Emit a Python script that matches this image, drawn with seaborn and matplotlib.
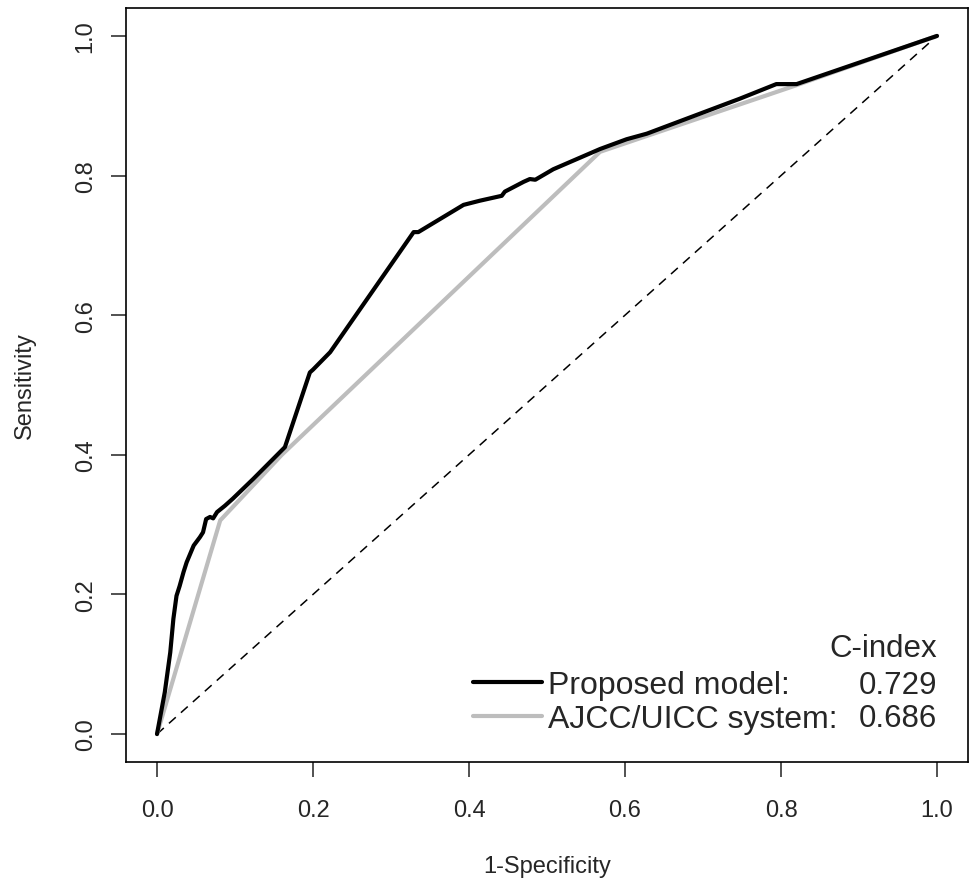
import matplotlib
matplotlib.use("Agg")
import matplotlib.pyplot as plt
import seaborn as sns
import pandas as pd
import numpy as np
from matplotlib.lines import Line2D

sns.set_style("white")
plt.rcParams['font.family'] = ['Liberation Sans', 'DejaVu Sans']

# Proposed model ROC curve (1-Specificity, Sensitivity)
proposed_fpr = [0.0, 0.006, 0.010, 0.017, 0.021, 0.025, 0.029, 0.034, 0.038, 0.047,
                0.055, 0.059, 0.063, 0.068, 0.072, 0.077, 0.087, 0.097, 0.123, 0.164,
                0.196, 0.200, 0.222, 0.329, 0.335, 0.393, 0.414, 0.442, 0.446, 0.470,
                0.478, 0.485, 0.508, 0.568, 0.602, 0.628, 0.747, 0.794, 0.820, 1.0]
proposed_tpr = [0.0, 0.036, 0.060, 0.117, 0.165, 0.198, 0.212, 0.232, 0.246, 0.270,
                0.282, 0.289, 0.308, 0.311, 0.309, 0.318, 0.327, 0.337, 0.365, 0.411,
                0.518, 0.522, 0.547, 0.719, 0.719, 0.758, 0.764, 0.771, 0.777, 0.791,
                0.795, 0.794, 0.809, 0.838, 0.852, 0.860, 0.910, 0.931, 0.931, 1.0]

# AJCC/UICC system ROC curve
ajcc_fpr = [0.0, 0.081, 0.160, 0.568, 0.824, 1.0]
ajcc_tpr = [0.0, 0.306, 0.400, 0.834, 0.931, 1.0]

series_names = ["Proposed model:", "AJCC/UICC system:"]
c_index = ["0.729", "0.686"]
tick_vals = [0.0, 0.2, 0.4, 0.6, 0.8, 1.0]
tick_labels = ["0.0", "0.2", "0.4", "0.6", "0.8", "1.0"]

df = pd.concat([
    pd.DataFrame({"fpr": proposed_fpr, "tpr": proposed_tpr, "model": series_names[0]}),
    pd.DataFrame({"fpr": ajcc_fpr, "tpr": ajcc_tpr, "model": series_names[1]}),
], ignore_index=True)

fig = plt.figure(figsize=(9.71, 8.79), dpi=100)
ax = fig.add_axes([125.8 / 971, 1 - 763 / 879, 842.4 / 971, 754 / 879])

palette = {series_names[0]: "#000000", series_names[1]: "#bdbdbd"}
# diagonal reference line
ax.plot([0, 1], [0, 1], color="black", lw=1.1, ls=(0, (6, 4.5)), zorder=1)
sns.lineplot(data=df, x="fpr", y="tpr", hue="model", palette=palette,
             sort=False, estimator=None, linewidth=3.0, ax=ax, legend=False,
             hue_order=[series_names[1], series_names[0]], zorder=3)

ax.set_xlim(-0.04, 1.04)
ax.set_ylim(-0.04, 1.04)
ax.set_xticks(tick_vals)
ax.set_xticklabels(tick_labels, fontsize=17)
ax.set_yticks(tick_vals)
ax.set_yticklabels(tick_labels, fontsize=17, rotation=90, va="center")
ax.tick_params(axis="both", direction="out", length=11, width=1.2, color="#333333",
               bottom=True, left=True)
ax.tick_params(axis="x", pad=16)
ax.tick_params(axis="y", pad=10)
for s in ax.spines.values():
    s.set_color("black")
    s.set_linewidth(1.2)

ax.set_xlabel("1-Specificity", fontsize=17, labelpad=24)
ax.set_ylabel("Sensitivity", fontsize=17, labelpad=28)

handles = [Line2D([], [], color=palette[n], lw=3.0) for n in series_names]
leg = ax.legend(handles, series_names, loc="center left",
                bbox_to_anchor=((473 - 125.8) / 842.4, (763 - 703) / 754),
                frameon=False, fontsize=23, handlelength=2.15, handletextpad=0.2,
                labelspacing=0.12, borderpad=0, borderaxespad=0)

xr = (937 - 125.8) / 842.4
ax.text(xr, (763 - 649) / 754, "C-index", transform=ax.transAxes, ha="right",
        va="center", fontsize=22.5)
for val, yp in zip(c_index, [686, 719]):
    ax.text(xr, (763 - yp) / 754, val, transform=ax.transAxes, ha="right",
            va="center", fontsize=22.5)

fig.savefig("out.png", dpi=100)
